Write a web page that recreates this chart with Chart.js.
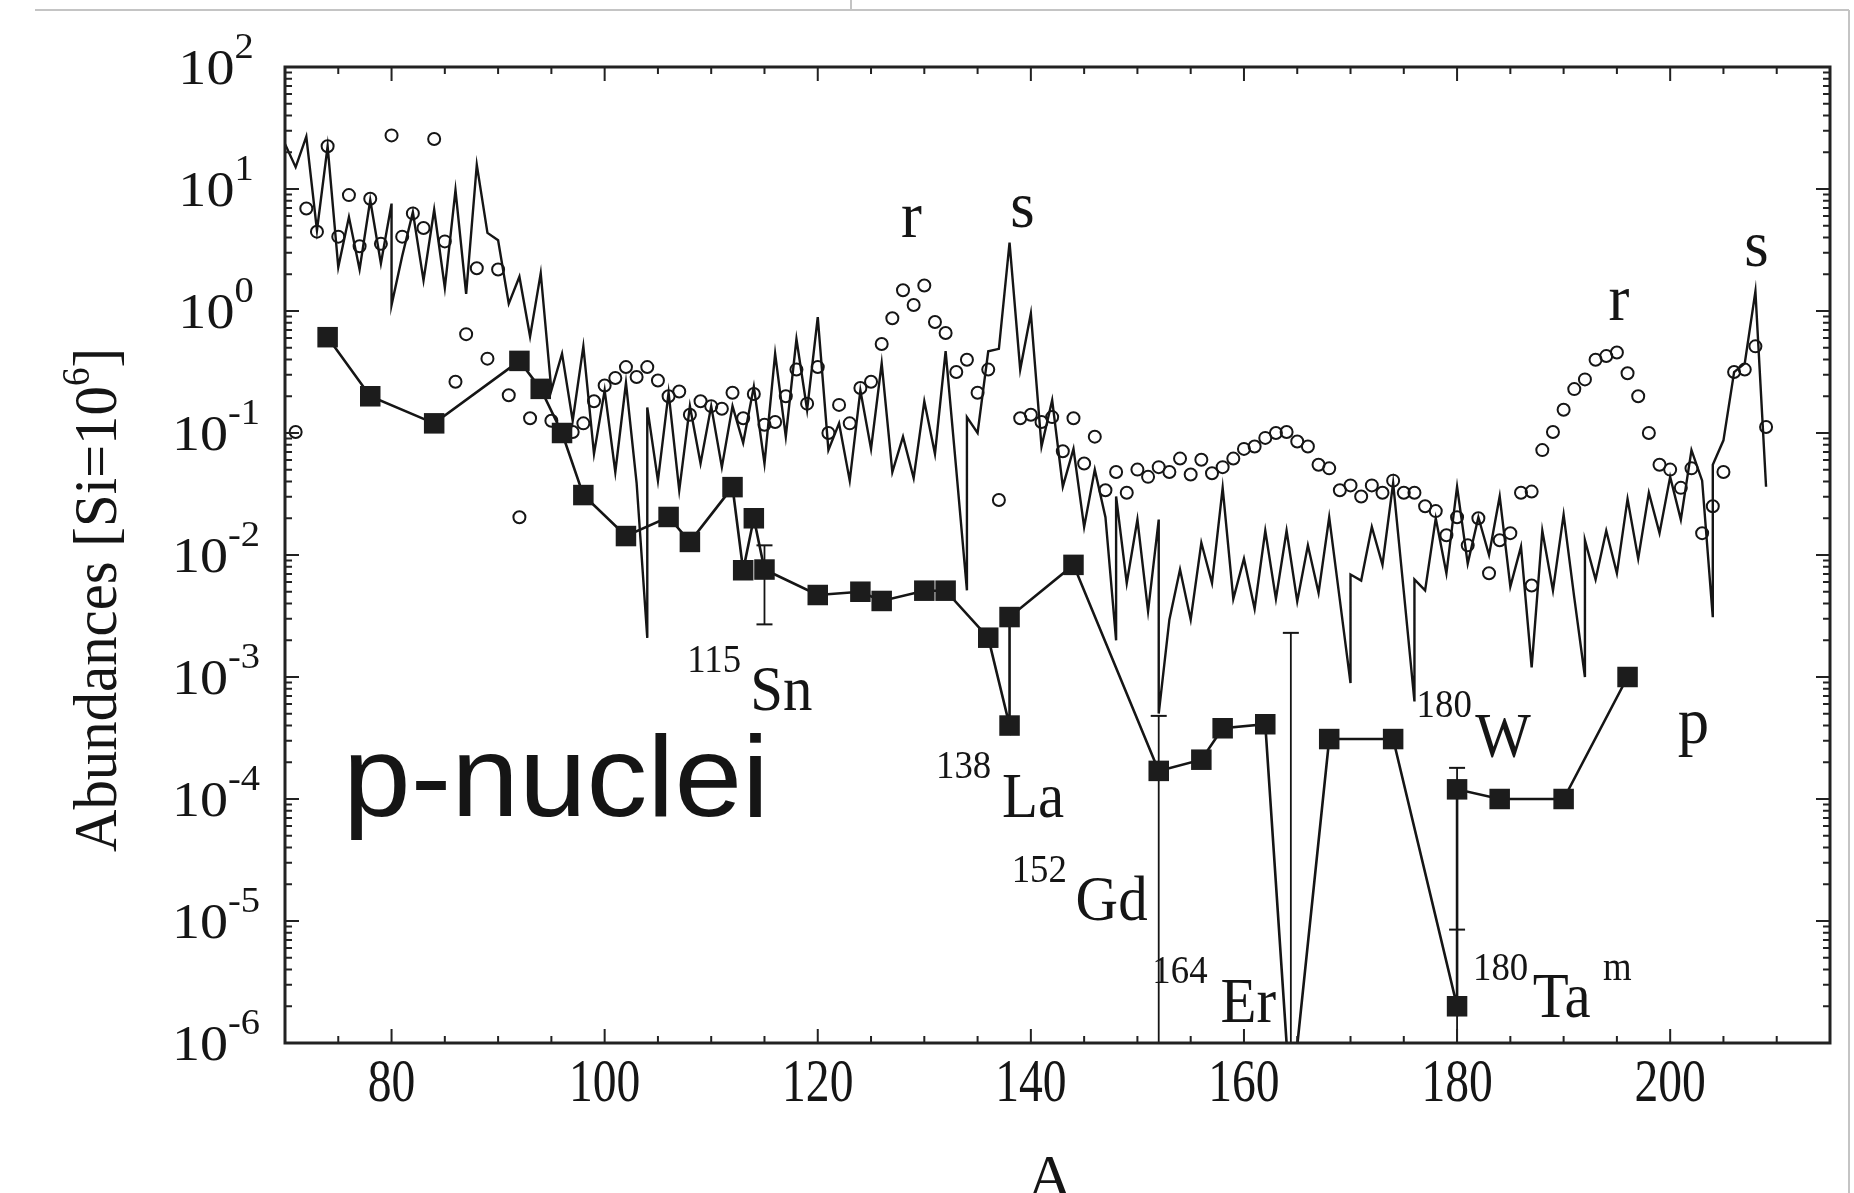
<!DOCTYPE html>
<html>
<head>
<meta charset="utf-8">
<script src="https://cdn.jsdelivr.net/npm/chart.js@4.4.1/dist/chart.umd.min.js"></script>
<style>
  html, body { margin: 0; padding: 0; background: #fff; }
  canvas { display: block; }
</style>
</head>
<body>
<canvas id="c" width="1854" height="1193"></canvas>
<script>
// thin zigzag line, one entry per isotope (isobars repeat the same A)
const lineA = [70,71,72,73,74,75,76,77,78,79,80,80,81,82,83,84,85,86,87,88,89,90,91,92,93,94,95,96,97,98,99,100,
  101,102,103,104,104,105,106,107,108,109,110,111,112,113,114,115,116,117,118,119,120,121,122,123,124,125,126,127,
  128,129,130,131,132,133,134,134,135,136,137,138,139,140,141,142,143,144,145,146,147,148,148,149,150,151,152,152,
  153,154,155,156,157,158,159,160,161,162,163,164,165,166,167,168,169,170,170,171,172,173,174,175,176,176,177,178,
  179,180,181,182,183,184,185,186,187,188,189,190,191,192,192,193,194,195,196,197,198,199,200,201,202,203,204,204,
  205,206,207,208,209];
const lineV = [23.4,15.1,26.9,4.57,22.4,2.29,5.89,2.19,8.13,2.45,7.59,1.12,2.82,6.46,1.78,6.76,1.55,9.77,1.38,15.8,
  4.37,3.80,1.15,1.91,0.617,2.04,0.224,0.447,0.126,0.513,0.0676,0.224,0.0479,0.257,0.0389,0.00209,0.162,0.0407,
  0.214,0.0339,0.166,0.0562,0.166,0.0525,0.166,0.0832,0.240,0.0562,0.447,0.0933,0.589,0.155,0.891,0.0724,0.120,
  0.0407,0.224,0.0741,0.372,0.0479,0.0933,0.0427,0.182,0.0676,0.468,0.0501,0.00513,0.135,0.100,0.468,0.490,3.63,
  0.331,0.955,0.0776,0.186,0.0363,0.0741,0.0170,0.0501,0.0204,0.00200,0.0302,0.00589,0.0195,0.00347,0.0195,0.000501,
  0.00295,0.00759,0.00295,0.0126,0.00589,0.0355,0.00437,0.00933,0.00363,0.0158,0.00437,0.0158,0.00417,0.0120,
  0.00490,0.0204,0.00427,0.000891,0.00692,0.00617,0.0170,0.00832,0.0389,0.00501,0.000631,0.00631,0.00513,0.0200,
  0.00708,0.0363,0.00851,0.0204,0.0100,0.0302,0.00550,0.0117,0.00120,0.0158,0.00513,0.0214,0.00447,0.00100,0.0132,
  0.00631,0.0158,0.00708,0.0288,0.00933,0.0324,0.0151,0.0437,0.0195,0.0724,0.0407,0.00309,0.0550,0.0871,0.316,
  0.372,1.45,0.0363];

// open circles
const circA = [71,72,73,74,75,76,77,78,79,80,81,82,83,84,85,86,87,88,89,90,91,92,93,95,97,98,99,100,101,102,103,104,
  105,106,107,108,109,110,111,112,113,114,115,116,117,118,119,120,121,122,123,124,125,126,127,128,129,130,131,132,
  133,134,135,136,137,139,140,141,142,143,144,145,146,147,148,149,150,151,152,153,154,155,156,157,158,159,160,161,
  162,163,164,165,166,167,168,169,170,171,172,173,174,175,176,177,178,179,180,181,182,183,184,185,186,187,187,188,
  189,190,191,192,193,194,195,196,197,198,199,200,201,202,203,204,205,206,207,208,209];
const circV = [0.102,6.92,4.47,22.4,4.07,8.91,3.39,8.32,3.55,27.5,4.07,6.31,4.79,25.7,3.72,0.263,0.646,2.24,0.407,
  2.19,0.204,0.0204,0.132,0.126,0.102,0.120,0.182,0.245,0.282,0.347,0.288,0.347,0.269,0.200,0.219,0.141,0.182,0.166,
  0.158,0.214,0.132,0.209,0.117,0.123,0.200,0.331,0.174,0.347,0.100,0.170,0.120,0.234,0.263,0.537,0.871,1.48,1.12,
  1.62,0.813,0.661,0.316,0.398,0.214,0.331,0.0282,0.132,0.141,0.123,0.135,0.0708,0.132,0.0562,0.0933,0.0339,0.0479,
  0.0324,0.0501,0.0437,0.0525,0.0479,0.0617,0.0457,0.0603,0.0468,0.0525,0.0617,0.0741,0.0776,0.0912,0.100,0.102,
  0.0851,0.0776,0.0550,0.0513,0.0339,0.0372,0.0302,0.0372,0.0324,0.0407,0.0324,0.0324,0.0251,0.0229,0.0145,0.0204,
  0.0120,0.0200,0.00708,0.0132,0.0151,0.0324,0.0331,0.00562,0.0724,0.102,0.155,0.229,0.275,0.398,0.427,0.457,0.309,
  0.200,0.100,0.0550,0.0501,0.0355,0.0513,0.0151,0.0251,0.0479,0.316,0.331,0.513,0.112];

// p-nuclei (filled squares), in the order the line joins them
const pA = [74,78,84,92,94,96,98,102,106,108,112,113,114,115,120,124,126,130,132,136,138,138,144,152,156,158,162,
  164.4,168,174,180,180,184,190,196];
const pV = [0.61,0.20,0.12,0.39,0.23,0.10,0.031,0.0143,0.0205,0.0128,0.036,0.0075,0.020,0.0076,0.0047,0.0050,0.0042,
  0.0051,0.0051,0.0021,0.0004,0.0031,0.0083,0.00017,0.00021,0.00038,0.00041,3e-7,0.00031,0.00031,2.0e-6,0.00012,
  0.0001,0.0001,0.001];

// error bars
const errA  = [115, 152, 164.4, 180, 180];
const errLo = [0.0027, 1e-7, 1e-7, 0.00012, 1e-7];
const errHi = [0.012, 0.00048, 0.0023, 0.00018, 8.5e-6];
const errCapLo = [true, false, false, false, false];

const xTicks = [80, 100, 120, 140, 160, 180, 200];
const yExps = [-6, -5, -4, -3, -2, -1, 0, 1, 2];

const serif = '"Liberation Serif", "DejaVu Serif", serif';
const ink = '#151515';

function pts(xs, ys) { return xs.map((x, i) => ({ x: x, y: ys[i] })); }

function runWidth(ctx, parts) {
  let w = 0;
  for (const p of parts) { ctx.font = p.font; w += ctx.measureText(p.t).width; }
  return w;
}
function drawRun(ctx, parts, x, y, sx, align) {
  ctx.save();
  ctx.translate(x, y);
  ctx.scale(sx, 1);
  const w = runWidth(ctx, parts);
  let cx = align === 'center' ? -w / 2 : align === 'right' ? -w : 0;
  ctx.textAlign = 'left';
  ctx.textBaseline = 'alphabetic';
  for (const p of parts) {
    ctx.font = p.font;
    ctx.fillText(p.t, cx, p.dy || 0);
    cx += ctx.measureText(p.t).width;
  }
  ctx.restore();
}

// isotope labels: superscript mass + symbol, placed in data coordinates
const isoSup = ['115', '138', '152', '164', '180', '180'];
const isoSym = ['Sn', 'La', 'Gd', 'Er', 'W', 'Ta'];
const supAt = [[107.75, 1.10e-3], [131.1, 1.48e-4], [138.2, 2.09e-5], [151.4, 3.09e-6], [176.2, 4.68e-4], [181.5, 3.31e-6]];
const symAt = [[113.66, 5.37e-4], [137.3, 7.1e-5], [144.2, 1.02e-5], [157.8, 1.48e-6], [181.7, 2.19e-4], [187.1, 1.62e-6]];
const peakTxt = ['r', 's', 'r', 's'];
const peakAt = [[128.8, 4.07], [139.2, 4.9], [195.2, 0.85], [208.1, 2.34]];

const decor = {
  id: 'decor',
  afterDraw(chart) {
    const { ctx, chartArea: a, scales: { x, y } } = chart;
    ctx.save();

    // page edge lines of the scanned figure
    ctx.strokeStyle = '#c4c4c4';
    ctx.lineWidth = 2;
    ctx.beginPath();
    ctx.moveTo(35, 10); ctx.lineTo(1849, 10);
    ctx.moveTo(1849, 10); ctx.lineTo(1849, 1193);
    ctx.moveTo(851, 0); ctx.lineTo(851, 10);
    ctx.stroke();

    // inward ticks on all four sides
    ctx.strokeStyle = '#222';
    ctx.lineWidth = 2;
    ctx.beginPath();
    for (let v = 75; v <= 210; v += 5) {
      const px = x.getPixelForValue(v);
      const len = v % 20 === 0 ? 14 : 7;
      ctx.moveTo(px, a.bottom); ctx.lineTo(px, a.bottom - len);
      ctx.moveTo(px, a.top); ctx.lineTo(px, a.top + len);
    }
    for (let e = -6; e < 2; e++) {
      for (let k = 1; k < 10; k++) {
        const py = y.getPixelForValue(k * Math.pow(10, e));
        const len = k === 1 ? 14 : 7;
        ctx.moveTo(a.left, py); ctx.lineTo(a.left + len, py);
        ctx.moveTo(a.right, py); ctx.lineTo(a.right - len, py);
      }
    }
    ctx.stroke();

    // frame
    ctx.lineWidth = 3;
    ctx.strokeRect(a.left, a.top, a.right - a.left, a.bottom - a.top);

    ctx.fillStyle = ink;
    // x tick labels
    for (const t of xTicks) {
      drawRun(ctx, [{ t: String(t), font: '61px ' + serif }], x.getPixelForValue(t), a.bottom + 58, 0.78, 'center');
    }
    // y tick labels 10^n
    for (const e of yExps) {
      const py = y.getPixelForValue(Math.pow(10, e));
      drawRun(ctx, [
        { t: '10', font: '51px ' + serif },
        { t: String(e), font: '35px ' + serif, dy: -26 }
      ], 216, py + 17, 1.1, 'center');
    }

    // y axis title
    ctx.save();
    ctx.translate(116, 600);
    ctx.rotate(-Math.PI / 2);
    const tParts = [
      { t: 'Abundances [Si=10', font: '62px ' + serif },
      { t: '6', font: '39px ' + serif, dy: -27 },
      { t: ']', font: '62px ' + serif }
    ];
    drawRun(ctx, tParts, 0, 0, 504 / runWidth(ctx, tParts), 'center');
    ctx.restore();

    // x axis title
    drawRun(ctx, [{ t: 'A', font: '62px ' + serif }], 1050, a.bottom + 154, 1, 'center');

    // p-nuclei
    const pn = [{ t: 'p-nuclei', font: '115px "Liberation Sans", Arial, sans-serif' }];
    drawRun(ctx, pn, x.getPixelForValue(75.45), y.getPixelForValue(7.2e-5), 426 / runWidth(ctx, pn), 'left');

    // isotope labels
    for (let i = 0; i < isoSym.length; i++) {
      drawRun(ctx, [{ t: isoSup[i], font: '40px ' + serif }],
        x.getPixelForValue(supAt[i][0]), y.getPixelForValue(supAt[i][1]), 0.92, 'left');
      drawRun(ctx, [{ t: isoSym[i], font: '64px ' + serif }],
        x.getPixelForValue(symAt[i][0]), y.getPixelForValue(symAt[i][1]), 0.92, 'left');
    }
    drawRun(ctx, [{ t: 'm', font: '40px ' + serif }], x.getPixelForValue(193.7), y.getPixelForValue(3.3e-6), 0.92, 'left');
    drawRun(ctx, [{ t: 'p', font: '66px ' + serif }], x.getPixelForValue(200.7), y.getPixelForValue(2.88e-4), 0.95, 'left');
    for (let i = 0; i < peakTxt.length; i++) {
      drawRun(ctx, [{ t: peakTxt[i], font: '66px ' + serif }],
        x.getPixelForValue(peakAt[i][0]), y.getPixelForValue(peakAt[i][1]), 0.95, 'center');
    }
    ctx.restore();
  }
};

const errSets = errA.map((ax, i) => ({
  data: [{ x: ax, y: errLo[i] }, { x: ax, y: errHi[i] }],
  showLine: true,
  borderColor: ink,
  borderWidth: 1.8,
  pointStyle: 'line',
  pointRadius: [errCapLo[i] ? 8 : 0, 8],
  pointBorderWidth: 2,
  pointBorderColor: ink
}));

new Chart(document.getElementById('c'), {
  type: 'scatter',
  data: {
    datasets: [
      {
        data: pts(pA, pV),
        showLine: true,
        borderColor: ink,
        borderWidth: 2.6,
        pointStyle: 'rect',
        pointRadius: 14.5,
        pointBackgroundColor: '#1c1c1c',
        pointBorderColor: '#1c1c1c',
        pointBorderWidth: 0
      },
      ...errSets,
      {
        data: pts(circA, circV),
        showLine: false,
        pointStyle: 'circle',
        pointRadius: 6,
        pointBorderWidth: 2,
        pointBorderColor: ink,
        pointBackgroundColor: 'rgba(255,255,255,0)'
      },
      {
        data: pts(lineA, lineV),
        showLine: true,
        borderColor: ink,
        borderWidth: 2.4,
        borderJoinStyle: 'miter',
        pointRadius: 0
      }
    ]
  },
  options: {
    responsive: false,
    animation: false,
    events: [],
    layout: { padding: { left: 285, right: 24, top: 67, bottom: 150 } },
    plugins: { legend: { display: false }, tooltip: { enabled: false } },
    scales: {
      x: { type: 'linear', min: 70, max: 215, display: false },
      y: { type: 'logarithmic', min: 1e-6, max: 100, display: false }
    }
  },
  plugins: [decor]
});
</script>
</body>
</html>
